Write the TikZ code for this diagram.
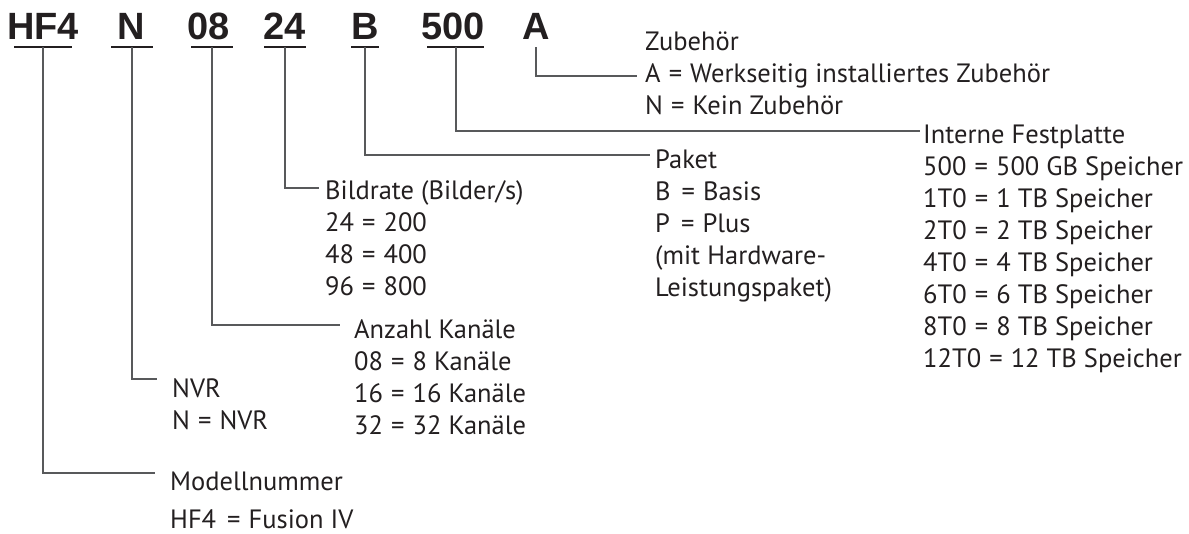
\documentclass[tikz,border=0pt]{standalone}
\usepackage{fontspec}
\setmainfont{PT Sans}
\newfontfamily\codefont{Liberation Sans}
\definecolor{ink}{HTML}{231F20}
\definecolor{wire}{HTML}{58595B}
\newcommand{\lbl}[1]{\begin{tabular}[t]{@{}l@{}}#1\end{tabular}}
\newcommand{\eq}{\ \hspace{1pt}=\hspace{1pt}\ }
\begin{document}
\begin{tikzpicture}[x=1pt,y=-1pt,
  code/.style={font=\codefont\bfseries\fontsize{38}{40}\selectfont, text=ink, inner sep=0pt, anchor=base},
  lab/.style={font=\fontsize{26.5}{32}\selectfont, text=ink, inner sep=0pt, anchor=base west},
  uline/.style={draw=ink, line width=2.4pt},
  conn/.style={draw=wire, line width=1.3pt}]
\useasboundingbox (0,0) rectangle (1189,533);

% code segments
\node[code] (hf4) at (43,39) {HF4};
\node[code] (n)   at (131,39) {N};
\node[code] (c08) at (209,39) {08};
\node[code] (c24) at (285,39) {24};
\node[code] (b)   at (365,39) {B};
\node[code] (c500) at (453,39) {500};
\node[code] (a)   at (536,39) {A};

% underlines
\draw[uline] (14,47) -- (72,47);
\draw[uline] (111,47) -- (153,47);
\draw[uline] (191,47) -- (233,47);
\draw[uline] (264,47) -- (306,47);
\draw[uline] (351,47) -- (379,47);
\draw[uline] (427,47) -- (484,47);

% connector start points
\coordinate (shf4) at (43,47);
\coordinate (sn)   at (132,47);
\coordinate (s08)  at (212,47);
\coordinate (s24)  at (285,47);
\coordinate (sb)   at (365,47);
\coordinate (s500) at (456,47);
\coordinate (sa)   at (536,47);

% connector end points
\coordinate (ehf4) at (155,473);
\coordinate (en)   at (157,379);
\coordinate (e08)  at (340,325);
\coordinate (e24)  at (319,188);
\coordinate (eb)   at (650,155);
\coordinate (e500) at (920,131);
\coordinate (ea)   at (637,76);

% labels
\node[lab] (zub) at (645,50) {\lbl{Zubehör\\A\eq Werkseitig installiertes Zubehör\\N\eq Kein Zubehör}};
\node[lab] (intern) at (923,143) {\lbl{Interne Festplatte\\500\eq 500 GB Speicher\\1T0\eq 1 TB Speicher\\2T0\eq 2 TB Speicher\\4T0\eq 4 TB Speicher\\6T0\eq 6 TB Speicher\\8T0\eq 8 TB Speicher\\12T0\eq 12 TB Speicher}};
\node[lab] (paket) at (655,168) {\lbl{Paket\\B\hspace{3pt}\eq Basis\\P\hspace{3pt}\eq Plus\\(mit Hardware-\\Leistungspaket)}};
\node[lab] (bild) at (325,199) {\lbl{Bildrate (Bilder/s)\\24\eq 200\\48\eq 400\\96\eq 800}};
\node[lab] (anz) at (354,338) {\lbl{Anzahl Kanäle\\08\eq 8 Kanäle\\16\eq 16 Kanäle\\32\eq 32 Kanäle}};
\node[lab] (nvr) at (172,397) {\lbl{NVR\\N\eq NVR}};
\node[lab] (modell) at (170,490) {\lbl{Modellnummer\\[6pt]HF4\hspace{3pt}\eq Fusion IV}};

% connectors
\draw[conn] (shf4) |- (ehf4);
\draw[conn] (sn) |- (en);
\draw[conn] (s08) |- (e08);
\draw[conn] (s24) |- (e24);
\draw[conn] (sb) |- (eb);
\draw[conn] (s500) |- (e500);
\draw[conn] (sa) |- (ea);
\end{tikzpicture}
\end{document}
